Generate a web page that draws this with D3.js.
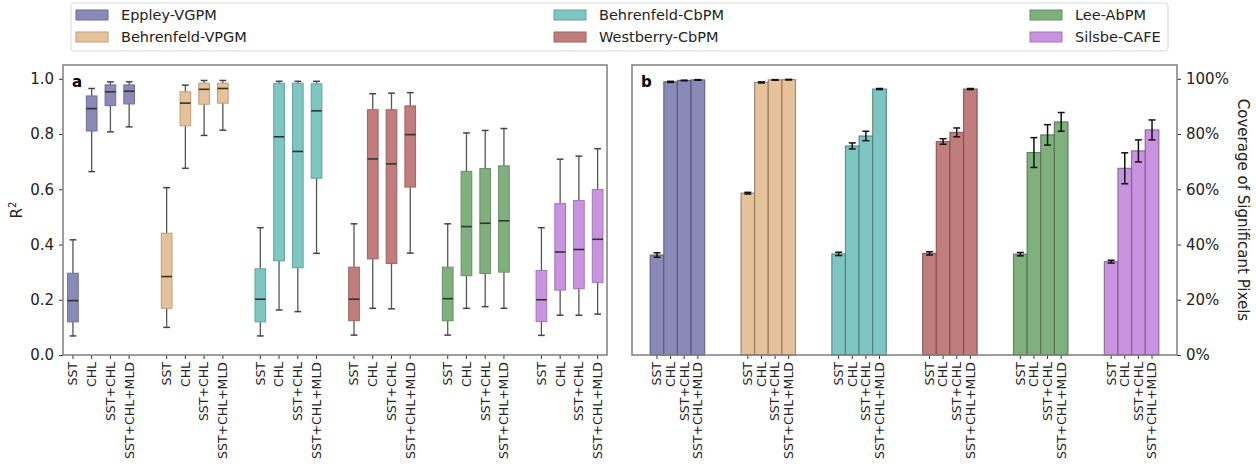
<!DOCTYPE html>
<html>
<head>
<meta charset="utf-8">
<script src="https://cdn.jsdelivr.net/npm/d3@7"></script>
<style>
  body { margin: 0; background: #fff; }
  svg { font-family: "DejaVu Sans", sans-serif; }
</style>
</head>
<body>
<svg id="chart" width="1256" height="467"></svg>
<script>
const models = ['Eppley-VGPM', 'Behrenfeld-VPGM', 'Behrenfeld-CbPM', 'Westberry-CbPM', 'Lee-AbPM', 'Silsbe-CAFE'];
const predictors = ['SST', 'CHL', 'SST+CHL', 'SST+CHL+MLD'];
const colors = ['#8a8ab9', '#e6c29a', '#7ec6c2', '#c17c7c', '#80b07e', '#c993e0'];

// panel a: box stats per model, one value per predictor
const boxLow = [
  [0.069, 0.664, 0.808, 0.826],
  [0.100, 0.676, 0.795, 0.814],
  [0.069, 0.163, 0.157, 0.368],
  [0.072, 0.169, 0.167, 0.369],
  [0.072, 0.169, 0.175, 0.169],
  [0.071, 0.144, 0.144, 0.148]
];
const boxQ1 = [
  [0.120, 0.811, 0.903, 0.909],
  [0.169, 0.830, 0.908, 0.912],
  [0.120, 0.341, 0.316, 0.640],
  [0.124, 0.348, 0.331, 0.608],
  [0.124, 0.287, 0.295, 0.300],
  [0.121, 0.235, 0.240, 0.262]
];
const boxMed = [
  [0.197, 0.892, 0.953, 0.955],
  [0.284, 0.912, 0.962, 0.965],
  [0.202, 0.790, 0.737, 0.884],
  [0.202, 0.710, 0.692, 0.798],
  [0.204, 0.465, 0.477, 0.486],
  [0.200, 0.373, 0.382, 0.419]
];
const boxQ3 = [
  [0.296, 0.938, 0.978, 0.978],
  [0.441, 0.953, 0.984, 0.984],
  [0.312, 0.984, 0.984, 0.982],
  [0.318, 0.888, 0.888, 0.902],
  [0.318, 0.665, 0.675, 0.685],
  [0.306, 0.548, 0.559, 0.599]
];
const boxHigh = [
  [0.417, 0.965, 0.989, 0.989],
  [0.606, 0.977, 0.994, 0.994],
  [0.461, 0.991, 0.991, 0.991],
  [0.475, 0.946, 0.948, 0.950],
  [0.475, 0.804, 0.813, 0.820],
  [0.461, 0.709, 0.720, 0.747]
];

// panel b: coverage of significant pixels and error half-widths
const coverage = [
  [0.362, 0.989, 0.994, 0.996],
  [0.586, 0.987, 0.996, 0.997],
  [0.366, 0.757, 0.793, 0.963],
  [0.368, 0.773, 0.806, 0.963],
  [0.365, 0.733, 0.797, 0.844],
  [0.338, 0.676, 0.739, 0.815]
];
const coverageErr = [
  [0.008, 0.002, 0.001, 0.001],
  [0.003, 0.002, 0.001, 0.001],
  [0.006, 0.011, 0.017, 0.002],
  [0.006, 0.010, 0.016, 0.002],
  [0.006, 0.054, 0.037, 0.034],
  [0.005, 0.056, 0.040, 0.036]
];

const yTicksA = [0, 0.2, 0.4, 0.6, 0.8, 1.0];
const yTicksB = [0, 0.2, 0.4, 0.6, 0.8, 1.0];

const svg = d3.select('#chart');
const plotTop = 65, plotBottom = 355;
const y = d3.scaleLinear().domain([0, 1.05]).range([plotBottom, plotTop]);

const axisFont = 15;
const xLabelFont = 12.5;

// ---------- panel a ----------
const ax = { left: 63, right: 607 };
const xa = d3.scaleLinear().domain([-0.53, 28.5]).range([ax.left, ax.right]);
const pos = (g, j) => g * 5 + j;

const boxes = [];
models.forEach((m, g) => predictors.forEach((p, j) => boxes.push({
  g, j, low: boxLow[g][j], q1: boxQ1[g][j], med: boxMed[g][j], q3: boxQ3[g][j], high: boxHigh[g][j]
})));

const gA = svg.append('g');
const bw = 0.57, cw = 0.36;
const box = gA.selectAll('g.box').data(boxes).join('g').attr('class', 'box');
box.append('line')
  .attr('x1', d => xa(pos(d.g, d.j))).attr('x2', d => xa(pos(d.g, d.j)))
  .attr('y1', d => y(d.low)).attr('y2', d => y(d.q1))
  .attr('stroke', '#555').attr('stroke-width', 1.3);
box.append('line')
  .attr('x1', d => xa(pos(d.g, d.j))).attr('x2', d => xa(pos(d.g, d.j)))
  .attr('y1', d => y(d.q3)).attr('y2', d => y(d.high))
  .attr('stroke', '#555').attr('stroke-width', 1.3);
['low', 'high'].forEach(k => box.append('line')
  .attr('x1', d => xa(pos(d.g, d.j) - cw / 2)).attr('x2', d => xa(pos(d.g, d.j) + cw / 2))
  .attr('y1', d => y(d[k])).attr('y2', d => y(d[k]))
  .attr('stroke', '#444').attr('stroke-width', 1.5));
box.append('rect')
  .attr('x', d => xa(pos(d.g, d.j) - bw / 2))
  .attr('width', xa(bw) - xa(0))
  .attr('y', d => y(d.q3))
  .attr('height', d => y(d.q1) - y(d.q3))
  .attr('fill', d => colors[d.g])
  .attr('stroke', d => d3.color(colors[d.g]).darker(0.6))
  .attr('stroke-width', 1);
box.append('line')
  .attr('x1', d => xa(pos(d.g, d.j) - bw / 2)).attr('x2', d => xa(pos(d.g, d.j) + bw / 2))
  .attr('y1', d => y(d.med)).attr('y2', d => y(d.med))
  .attr('stroke', '#333').attr('stroke-width', 1.6);

// x ticks a
const tickA = gA.selectAll('g.xt').data(boxes).join('g').attr('class', 'xt')
  .attr('transform', d => `translate(${xa(pos(d.g, d.j))},${plotBottom})`);
tickA.append('line').attr('y2', 4).attr('stroke', '#333').attr('stroke-width', 1);
tickA.append('text')
  .attr('transform', 'translate(0,7) rotate(-90)')
  .attr('text-anchor', 'end').attr('dy', '0.35em')
  .attr('font-size', xLabelFont).attr('fill', '#222')
  .text(d => predictors[d.j]);

// y axis a
const yAxisA = gA.append('g').attr('transform', `translate(${ax.left},0)`)
  .call(d3.axisLeft(y).tickValues(yTicksA).tickFormat(d3.format('.1f')).tickSize(4).tickPadding(5));
yAxisA.select('.domain').remove();
yAxisA.selectAll('line').attr('stroke', '#333');
yAxisA.selectAll('text').attr('font-size', axisFont).attr('fill', '#222').attr('font-family', 'DejaVu Sans');

gA.append('rect').attr('x', ax.left).attr('y', plotTop).attr('width', ax.right - ax.left).attr('height', plotBottom - plotTop)
  .attr('fill', 'none').attr('stroke', '#7f7f7f').attr('stroke-width', 1.5);
gA.append('text').attr('x', 72).attr('y', 87).attr('font-weight', 'bold').attr('font-size', 15).text('a');

const rl = gA.append('text').attr('transform', `translate(22,${(plotTop + plotBottom) / 2}) rotate(-90)`)
  .attr('text-anchor', 'middle').attr('font-size', axisFont).attr('fill', '#222');
rl.append('tspan').text('R');
rl.append('tspan').attr('font-size', 10).attr('dy', -6).text('2');

// ---------- panel b ----------
const bx = { left: 632, right: 1177 };
const xb = d3.scaleLinear().domain([-0.5, 5.5]).range([bx.left, bx.right]);
const barW = 0.15;
const bpos = (g, j) => g + (j - 1.5) * barW;

const bars = [];
models.forEach((m, g) => predictors.forEach((p, j) => bars.push({ g, j, v: coverage[g][j], e: coverageErr[g][j] })));

const gB = svg.append('g');
gB.selectAll('rect.bar').data(bars).join('rect').attr('class', 'bar')
  .attr('x', d => xb(bpos(d.g, d.j) - barW / 2))
  .attr('width', xb(barW) - xb(0))
  .attr('y', d => y(d.v))
  .attr('height', d => y(0) - y(d.v))
  .attr('fill', d => colors[d.g])
  .attr('stroke', d => d3.color(colors[d.g]).darker(1.4))
  .attr('stroke-opacity', 0.8)
  .attr('stroke-width', 1.2);

const eb = gB.selectAll('g.err').data(bars).join('g').attr('class', 'err');
eb.append('line')
  .attr('x1', d => xb(bpos(d.g, d.j))).attr('x2', d => xb(bpos(d.g, d.j)))
  .attr('y1', d => y(d.v - d.e)).attr('y2', d => y(d.v + d.e))
  .attr('stroke', '#111').attr('stroke-width', 1.5);
[-1, 1].forEach(s => eb.append('line')
  .attr('x1', d => xb(bpos(d.g, d.j)) - 3.5).attr('x2', d => xb(bpos(d.g, d.j)) + 3.5)
  .attr('y1', d => y(d.v + s * d.e)).attr('y2', d => y(d.v + s * d.e))
  .attr('stroke', '#111').attr('stroke-width', 1.5));

const tickB = gB.selectAll('g.xt').data(bars).join('g').attr('class', 'xt')
  .attr('transform', d => `translate(${xb(bpos(d.g, d.j))},${plotBottom})`);
tickB.append('line').attr('y2', 4).attr('stroke', '#333').attr('stroke-width', 1);
tickB.append('text')
  .attr('transform', 'translate(0,7) rotate(-90)')
  .attr('text-anchor', 'end').attr('dy', '0.35em')
  .attr('font-size', xLabelFont).attr('fill', '#222')
  .text(d => predictors[d.j]);

const yAxisB = gB.append('g').attr('transform', `translate(${bx.right},0)`)
  .call(d3.axisRight(y).tickValues(yTicksB).tickFormat(d3.format('.0%')).tickSize(4).tickPadding(5));
yAxisB.select('.domain').remove();
yAxisB.selectAll('line').attr('stroke', '#333');
yAxisB.selectAll('text').attr('font-size', axisFont).attr('fill', '#222').attr('font-family', 'DejaVu Sans');

gB.append('rect').attr('x', bx.left).attr('y', plotTop).attr('width', bx.right - bx.left).attr('height', plotBottom - plotTop)
  .attr('fill', 'none').attr('stroke', '#7f7f7f').attr('stroke-width', 1.5);
gB.append('text').attr('x', 641).attr('y', 87).attr('font-weight', 'bold').attr('font-size', 15).text('b');

gB.append('text').attr('transform', `translate(1238,${(plotTop + plotBottom) / 2}) rotate(90)`)
  .attr('text-anchor', 'middle').attr('font-size', axisFont).attr('fill', '#222')
  .text('Coverage of Significant Pixels');

// ---------- legend ----------
const lg = svg.append('g');
lg.append('rect').attr('x', 71).attr('y', 3).attr('width', 1097).attr('height', 48).attr('rx', 3)
  .attr('fill', '#fff').attr('stroke', '#d9d9d9').attr('stroke-width', 1);
const colX = [76, 554, 1030];
const rowY = [15, 37];
const item = lg.selectAll('g.item').data(models).join('g').attr('class', 'item')
  .attr('transform', (d, i) => `translate(${colX[Math.floor(i / 2)]},${rowY[i % 2]})`);
item.append('rect').attr('x', 0).attr('y', -5).attr('width', 32).attr('height', 10)
  .attr('fill', (d, i) => colors[i]).attr('stroke', (d, i) => d3.color(colors[i]).darker(0.6)).attr('stroke-width', 1);
item.append('text').attr('x', 45).attr('dy', '0.35em').attr('font-size', 14.5).attr('fill', '#222').text(d => d);
</script>
</body>
</html>
